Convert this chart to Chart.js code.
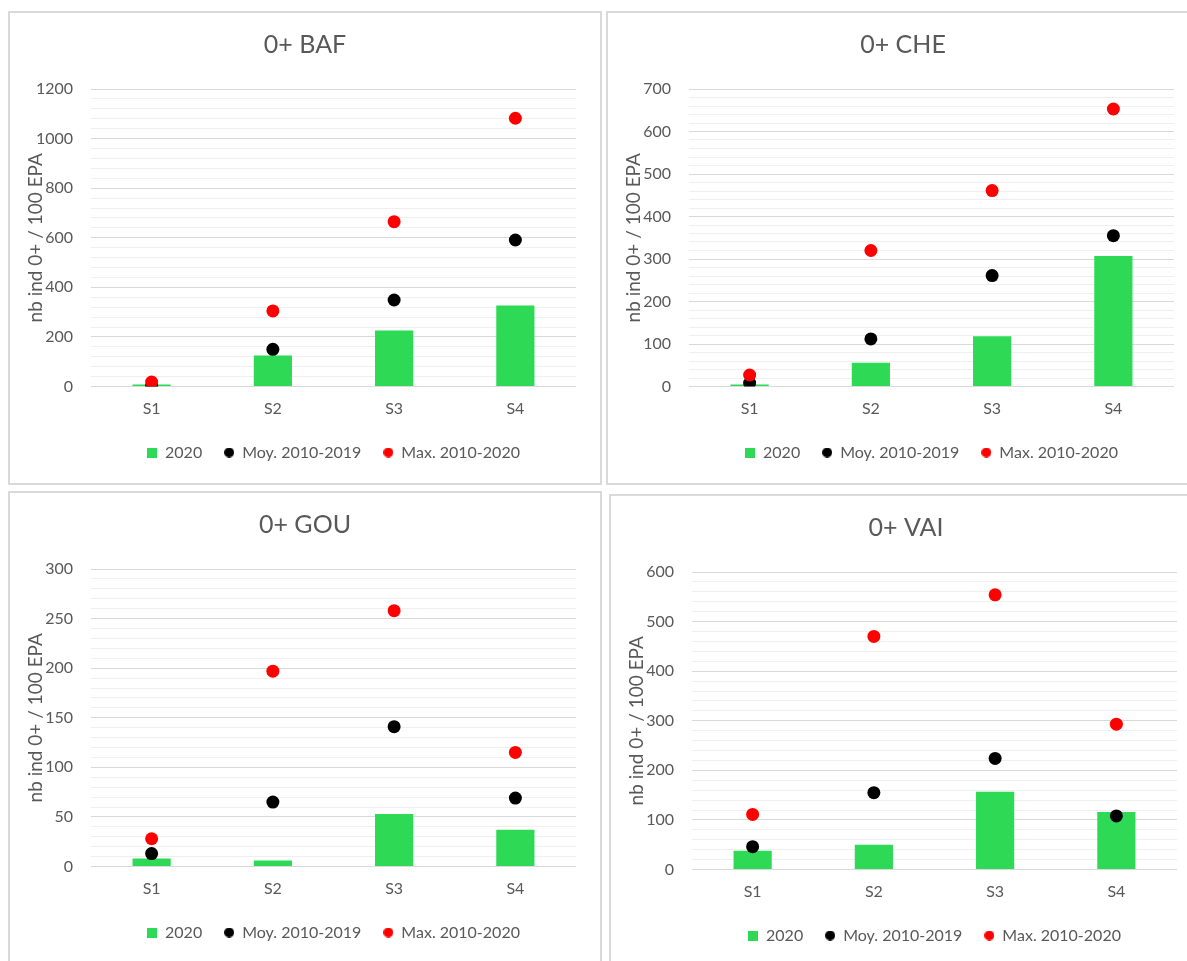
<!DOCTYPE html>
<html><head><meta charset="utf-8">
<script src="https://cdn.jsdelivr.net/npm/chart.js@4.4.1/dist/chart.umd.min.js"></script>
<style>
html,body{margin:0;padding:0;background:#fff;overflow:hidden;width:1187px;height:961px;}
.panel{position:absolute;border:2px solid #d9d9d9;box-sizing:border-box;background:#fff;overflow:hidden}
.panel canvas{position:absolute;left:0;top:0;}
</style></head><body>
<div class="panel" style="left:8px;top:11px;width:594px;height:474px"><canvas id="c1" width="590" height="470" style="width:590px;height:470px"></canvas></div>
<div class="panel" style="left:606px;top:11px;width:594px;height:474px"><canvas id="c2" width="590" height="470" style="width:590px;height:470px"></canvas></div>
<div class="panel" style="left:8px;top:491px;width:594px;height:480px"><canvas id="c3" width="590" height="470" style="width:590px;height:470px"></canvas></div>
<div class="panel" style="left:609px;top:494px;width:594px;height:480px"><canvas id="c4" width="590" height="470" style="width:590px;height:470px"></canvas></div>
<script>
// ---- data ----
const categories = ['S1', 'S2', 'S3', 'S4'];
const seriesNames = ['2020', 'Moy. 2010-2019', 'Max. 2010-2020'];
const chartTitles = ['0+ BAF', '0+ CHE', '0+ GOU', '0+ VAI'];
const yAxisTitle = 'nb ind 0+ / 100 EPA';

const baf2020 = [8, 125, 226, 327];
const bafMoy  = [2, 150, 349, 591];
const bafMax  = [18, 305, 665, 1082];
const bafTicks = [0, 200, 400, 600, 800, 1000, 1200];

const che2020 = [5, 56, 118, 307];
const cheMoy  = [8, 112, 261, 355];
const cheMax  = [27, 320, 461, 653];
const cheTicks = [0, 100, 200, 300, 400, 500, 600, 700];

const gou2020 = [8, 6, 53, 37];
const gouMoy  = [13, 65, 141, 69];
const gouMax  = [28, 197, 258, 115];
const gouTicks = [0, 50, 100, 150, 200, 250, 300];

const vai2020 = [38, 50, 157, 116];
const vaiMoy  = [46, 155, 224, 108];
const vaiMax  = [111, 470, 554, 293];
const vaiTicks = [0, 100, 200, 300, 400, 500, 600];

// ---- styles ----
const FONT = 'Lato, "Open Sans", "DejaVu Sans", sans-serif';
const TEXT = '#595959';
const GREEN = '#2DD955';
const BLACK = '#000000';
const RED = '#FF0000';

function markerCanvas(shape, color) {
  const c = document.createElement('canvas');
  c.width = 10; c.height = 10;
  const x = c.getContext('2d');
  x.fillStyle = color;
  if (shape === 'square') { x.fillRect(0, 0, 10, 10); }
  else { x.beginPath(); x.arc(5, 5, 5, 0, Math.PI * 2); x.fill(); }
  return c;
}
const legendMarkers = [markerCanvas('square', GREEN), markerCanvas('circle', BLACK), markerCanvas('circle', RED)];

function makeChart(id, title, v2020, vMoy, vMax, ticks) {
  const major = ticks[1] - ticks[0];
  const minor = major / 5;
  const yMax = ticks[ticks.length - 1];
  new Chart(document.getElementById(id), {
    data: {
      labels: categories,
      datasets: [
        { type: 'bar', label: seriesNames[0], data: v2020, backgroundColor: GREEN, borderWidth: 0,
          barPercentage: 0.315, categoryPercentage: 1, order: 3 },
        { type: 'line', label: seriesNames[1], data: vMoy, showLine: false, pointRadius: 6.5, pointHoverRadius: 6.5,
          pointBackgroundColor: BLACK, pointBorderColor: BLACK, pointBorderWidth: 0, borderColor: BLACK, order: 2 },
        { type: 'line', label: seriesNames[2], data: vMax, showLine: false, pointRadius: 6.5, pointHoverRadius: 6.5,
          pointBackgroundColor: RED, pointBorderColor: RED, pointBorderWidth: 0, borderColor: RED, order: 1 }
      ]
    },
    options: {
      responsive: false,
      animation: false,
      events: [],
      layout: { padding: { left: 0, right: 0, top: 0, bottom: 12.5 } },
      plugins: {
        tooltip: { enabled: false },
        title: {
          display: true, text: title, color: TEXT,
          font: { family: FONT, size: 25, weight: 'normal' },
          padding: { top: 17, bottom: 29 }
        },
        legend: {
          display: true, position: 'bottom', fullSize: false,
          labels: {
            color: TEXT, font: { family: FONT, size: 16 },
            usePointStyle: true, boxWidth: 10, boxHeight: 10, padding: 22,
            generateLabels: (chart) => seriesNames.map((n, i) => ({
              text: n, fillStyle: 'transparent', strokeStyle: 'transparent', lineWidth: 0,
              pointStyle: legendMarkers[i], hidden: false, datasetIndex: i, fontColor: TEXT
            }))
          }
        }
      },
      scales: {
        x: {
          type: 'category',
          grid: { display: false, drawTicks: false },
          border: { display: false },
          ticks: { color: TEXT, font: { family: FONT, size: 16 }, padding: 13, maxRotation: 0 },
          afterFit: (s) => { s.height = 36; }
        },
        y: {
          type: 'linear', position: 'left', min: 0, max: yMax,
          grid: {
            drawTicks: false, lineWidth: 1,
            color: (ctx) => (ctx.tick && ctx.tick.value % major === 0) ? '#d9d9d9' : '#efefef'
          },
          border: { display: false },
          ticks: {
            stepSize: minor, autoSkip: false, padding: 18, color: TEXT,
            font: { family: FONT, size: 16 },
            callback: (v) => (v % major === 0) ? String(v) : ''
          },
          title: {
            display: true, text: yAxisTitle, color: TEXT,
            font: { family: FONT, size: 19 }, padding: { top: 14, bottom: 0 }
          },
          afterFit: (s) => { s.width = 81; }
        },
        yR: {
          type: 'linear', position: 'right', display: true,
          grid: { display: false, drawTicks: false }, border: { display: false },
          ticks: { display: false },
          afterFit: (s) => { s.width = 24; }
        }
      }
    }
  });
}

makeChart('c1', chartTitles[0], baf2020, bafMoy, bafMax, bafTicks);
makeChart('c2', chartTitles[1], che2020, cheMoy, cheMax, cheTicks);
makeChart('c3', chartTitles[2], gou2020, gouMoy, gouMax, gouTicks);
makeChart('c4', chartTitles[3], vai2020, vaiMoy, vaiMax, vaiTicks);
</script>
</body></html>
